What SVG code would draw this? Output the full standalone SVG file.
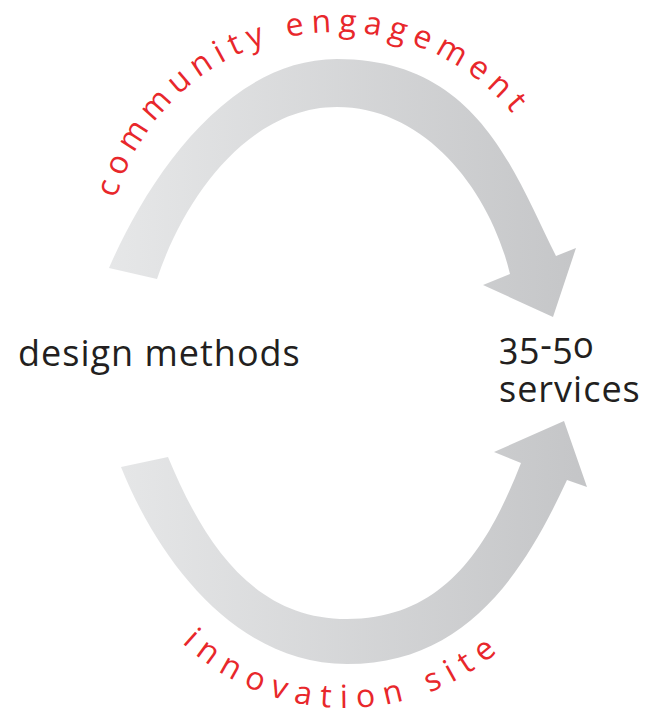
<svg xmlns="http://www.w3.org/2000/svg" xmlns:xlink="http://www.w3.org/1999/xlink" width="650" height="718" viewBox="0 0 650 718">
<defs>
<linearGradient id="grey" gradientUnits="userSpaceOnUse" x1="110" y1="0" x2="590" y2="0">
<stop offset="0" stop-color="#e6e7e8"/>
<stop offset="1" stop-color="#c4c5c7"/>
</linearGradient>
<path id="topArc" d="M110.5,222 A230,230 0 0 1 563.5,222"/>
<path id="botArc" d="M164.2,623.7 A236,236 0 0 0 525.8,623.7"/>
<style>
.arrow{fill:url(#grey);stroke:none}
.lbl{font-family:"Open Sans","Noto Sans","DejaVu Sans",sans-serif;font-size:36px;fill:#231f20;letter-spacing:1px;font-variant-numeric:oldstyle-nums}
.red{font-family:"Open Sans","Noto Sans","DejaVu Sans",sans-serif;font-size:32px;fill:#e8272b}
</style>
</defs>
<g id="connectors">
<path class="arrow" d="M109,268 C147,180 227,59 337,59 C477,59 513,170 556,256 L576,248 L553,317 L483,285 L510,274 C490,190 425,107 337,107 C250,107 185,195 157,279 Z"/>
<path class="arrow" d="M121,467 C159,562 237,664 347,664 C465,664 523,575 567,480 L587,487 L564,421 L494,452 L521,463 C489,545 445,619 347,619 C252,619 203,541 168,457 Z"/>
<text class="red" letter-spacing="7"><textPath xlink:href="#topArc" href="#topArc" startOffset="24">community engagement</textPath></text>
<text class="red" letter-spacing="9"><textPath xlink:href="#botArc" href="#botArc" startOffset="26">innovation site</textPath></text>
</g>
<g id="design-methods">
<text class="lbl" x="18" y="366">design methods</text>
</g>
<g id="services">
<text class="lbl" x="499" y="358">35-50</text>
<text class="lbl" x="499" y="402">services</text>
</g>
</svg>
